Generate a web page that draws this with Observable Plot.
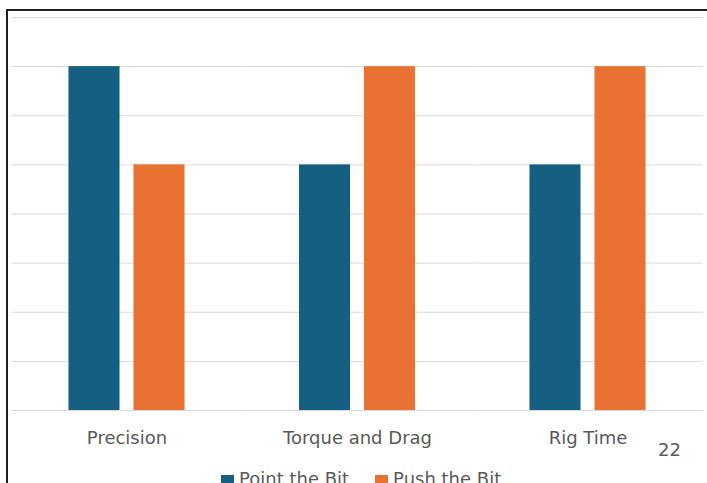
<!DOCTYPE html>
<html>
<head>
<meta charset="utf-8">
<script src="https://cdn.jsdelivr.net/npm/d3@7"></script>
<script src="https://cdn.jsdelivr.net/npm/@observablehq/plot@0.6"></script>
<style>
  html, body { margin: 0; padding: 0; background: #fff; overflow: hidden; }
  body { width: 707px; height: 483px; position: relative; font-family: "DejaVu Sans", sans-serif; }
  #frame { position: absolute; left: 6px; top: 9px; width: 900px; height: 700px; border: 2px solid #1e1e1e; box-sizing: border-box; }
  #chart { position: absolute; left: 0; top: 0; }
  #legend { position: absolute; left: 221px; top: 468px; }
  #slide-num { position: absolute; left: 658px; top: 439.5px; font-size: 18px; line-height: 20px; color: #595959; }
  .lg-swatches-wrap { min-height: 0 !important; line-height: 21px; font-size: 18px !important; color: #595959; font-family: "DejaVu Sans", sans-serif !important; }
  .lg-swatch { margin-right: 26px !important; }
  .lg-swatch > svg { margin-right: 5px !important; position: relative; top: 3px; }
</style>
</head>
<body>
<div id="frame"></div>
<div id="chart"></div>
<div id="legend"></div>
<div id="slide-num">22</div>
<script>
// Categories, series and values
const categories = ["Precision", "Torque and Drag", "Rig Time"];
const series = ["Point the Bit", "Push the Bit"];
const pointTheBit = [7, 5, 5];
const pushTheBit = [5, 7, 7];
const yTicks = [0, 1, 2, 3, 4, 5, 6, 7, 8];
const colors = ["#156082", "#E97132"];

// Long-format table for the grouped bars
const rows = categories.flatMap((c, i) => [
  {category: c, series: series[0], value: pointTheBit[i]},
  {category: c, series: series[1], value: pushTheBit[i]}
]);

const chart = Plot.plot({
  width: 707,
  height: 483,
  marginLeft: 11.25,
  marginRight: 4.25,
  marginTop: 17,
  marginBottom: 73,
  style: {fontFamily: "DejaVu Sans, sans-serif", fontSize: "18px", color: "#595959", background: "transparent"},
  fx: {domain: categories, paddingInner: 0, paddingOuter: 0, label: null, round: false},
  x: {domain: series, paddingInner: 0.215, paddingOuter: 0.88, axis: null, round: false},
  y: {domain: [0, 8], axis: null},
  color: {domain: series, range: colors},
  marks: [
    Plot.gridY(yTicks, {stroke: "#d9d9d9", strokeOpacity: 1, strokeWidth: 1}),
    Plot.barY(rows, {fx: "category", x: "series", y: "value", fill: "series", inset: 0}),
    Plot.axisFx({anchor: "bottom", tickSize: 0, tickPadding: 21, fontSize: 18, label: null})
  ]
});
document.getElementById("chart").appendChild(chart);

const legend = Plot.legend({
  color: {domain: series, range: colors},
  swatchSize: 13,
  className: "lg"
});
document.getElementById("legend").appendChild(legend);
</script>
</body>
</html>
